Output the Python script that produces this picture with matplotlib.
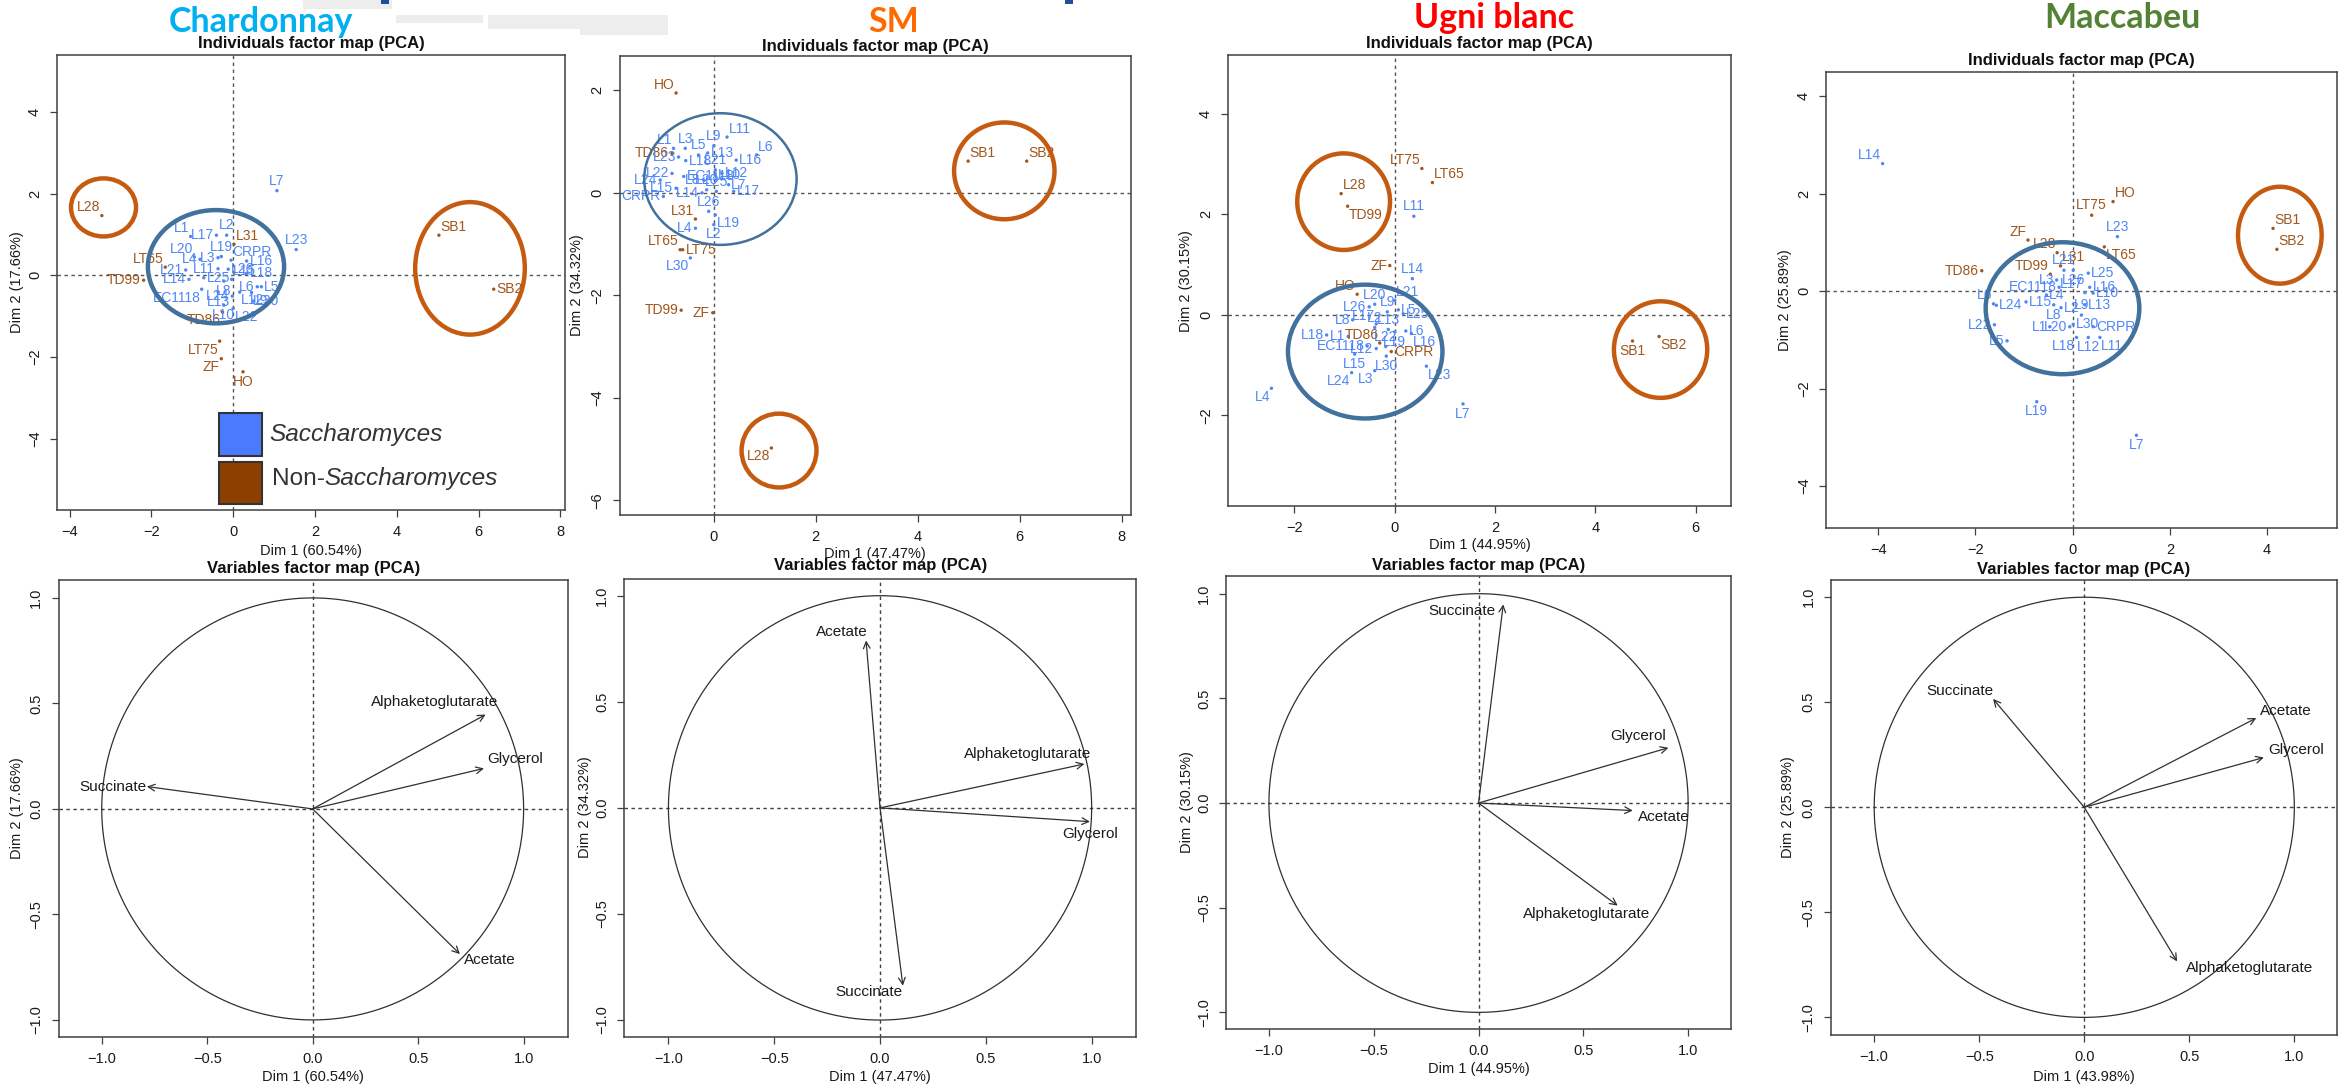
import matplotlib
matplotlib.use('Agg')
import matplotlib.pyplot as plt
from matplotlib.patches import Ellipse, Rectangle
import numpy as np

plt.rcParams['font.family'] = ['Liberation Sans', 'DejaVu Sans']

# ---------------- data ----------------
cultivars = ['Chardonnay', 'SM', 'Ugni blanc', 'Maccabeu']
cultivar_colors = ['#00B0F0', '#FF6A00', '#FF0000', '#548235']
dim1_pct = [60.54, 47.47, 44.95, 43.98]
dim2_pct = [17.66, 34.32, 30.15, 25.89]

# non-Saccharomyces strains (brown); everything else is Saccharomyces (blue)
nonsac = ['L28', 'LT65', 'LT75', 'TD99', 'TD86', 'L31', 'ZF', 'HO', 'SB1', 'SB2']
nonsac_ugni = nonsac + ['CRPR']

# Chardonnay individuals
ch_names = ['L28', 'LT65', 'TD99', 'L31', 'TD86', 'LT75', 'ZF', 'HO', 'SB1', 'SB2',
            'L7', 'L23', 'L1', 'L17', 'L2', 'L20', 'L4', 'L3', 'L19', 'CRPR', 'L16',
            'L21', 'L11', 'L26', 'L18', 'L14', 'L25', 'L15', 'L8', 'L6', 'L5', 'EC1118',
            'L13', 'L24', 'L12', 'L9', 'L30', 'L10', 'L22']
ch_x = [-3.21, -1.66, -2.19, 0.02, -0.26, -0.33, -0.29, 0.24, 5.03, 6.37,
        1.07, 1.54, -1.04, -0.41, -0.16, -0.95, -0.81, -0.37, -0.29, -0.05, 0.33,
        -1.16, -0.37, -0.12, 0.33, -1.08, -0.72, -0.04, -0.23, 0.59, 0.69, -0.77,
        -0.37, -0.02, 0.16, 0.45, 0.49, -0.23, 0.00]
ch_y = [1.46, 0.20, -0.12, 0.76, -0.90, -1.61, -2.04, -2.36, 0.98, -0.34,
        2.07, 0.63, 0.95, 0.98, 0.98, 0.45, 0.39, 0.43, 0.46, 0.37, 0.35,
        0.13, 0.16, 0.15, 0.05, -0.10, -0.06, -0.10, -0.14, -0.28, -0.28, -0.34,
        -0.41, -0.51, -0.41, -0.42, -0.63, -0.73, -0.81]

# SM individuals
sm_names = ['HO', 'SB1', 'SB2', 'L28', 'TD99', 'ZF', 'L31', 'LT65', 'LT75', 'TD86',
            'L30', 'L11', 'L9', 'L6', 'L16', 'L3', 'L1', 'L5', 'L13', 'L23', 'L18',
            'L21', 'L22', 'EC1118', 'L10', 'L12', 'L8', 'L24', 'L15', 'L20', 'L7',
            'L17', 'L14', 'L25', 'CRPR', 'L26', 'L19', 'L4', 'L2']
sm_x = [-0.74, 4.99, 6.14, 1.13, -0.64, -0.02, -0.36, -0.66, -0.61, -0.82,
        -0.46, 0.26, 0.00, 0.84, 0.44, -0.56, -0.79, -0.30, -0.12, -0.69, -0.55,
        0.03, -0.82, -0.59, 0.03, 0.16, -0.20, -1.05, -0.74, -0.14, 0.29,
        0.39, -0.23, 0.05, -0.99, -0.10, 0.03, -0.36, 0.00]
sm_y = [1.95, 0.62, 0.62, -4.98, -2.29, -2.34, -0.51, -1.11, -1.11, 0.77,
        -1.27, 1.09, 0.92, 0.74, 0.64, 0.87, 0.87, 0.74, 0.78, 0.70, 0.63,
        0.45, 0.38, 0.32, 0.35, 0.38, 0.25, 0.25, 0.09, 0.06, 0.16,
        0.03, 0.00, 0.03, -0.07, -0.36, -0.43, -0.69, -0.62]

# Ugni blanc individuals
ub_names = ['LT75', 'LT65', 'L28', 'TD99', 'ZF', 'HO', 'TD86', 'CRPR', 'SB1', 'SB2',
            'L11', 'L14', 'L20', 'L21', 'L26', 'L9', 'L5', 'L25', 'L8', 'L17', 'L13',
            'L2', 'L6', 'L18', 'L1', 'L19', 'L16', 'EC1118', 'L12', 'L22', 'L15',
            'L30', 'L23', 'L24', 'L3', 'L4', 'L7']
ub_x = [0.54, 0.75, -1.07, -0.94, -0.10, -0.75, -0.30, -0.07, 4.74, 5.27,
        0.38, 0.35, -0.40, 0.00, -0.51, -0.15, 0.07, 0.17, -0.84, -0.37, -0.13,
        -0.40, 0.22, -1.36, -0.93, 0.00, 0.33, -0.55, -0.37, -0.18, -0.80,
        -0.17, 0.63, -0.86, -0.40, -2.46, 1.36]
ub_y = [2.91, 2.63, 2.41, 2.16, 0.98, 0.41, -0.56, -0.73, -0.52, -0.43,
        1.96, 0.72, 0.21, 0.29, 0.16, 0.06, 0.10, 0.02, -0.10, -0.18, -0.29,
        -0.25, -0.32, -0.40, -0.43, -0.34, -0.37, -0.62, -0.67, -0.63, -0.78,
        -0.82, -1.02, -1.15, -1.11, -1.46, -1.77]

# Maccabeu individuals
mc_names = ['HO', 'LT75', 'ZF', 'L28', 'LT65', 'L31', 'TD86', 'TD99', 'SB1', 'SB2',
            'L14', 'L23', 'L21', 'L26', 'L25', 'L3', 'L16', 'EC1118', 'L17', 'L4',
            'L10', 'L6', 'L24', 'L15', 'L2', 'L13', 'L9', 'L8', 'L22', 'L1', 'L20',
            'L30', 'CRPR', 'L5', 'L18', 'L12', 'L11', 'L19', 'L7']
mc_x = [0.83, 0.39, -0.92, -0.32, 0.65, -0.25, -1.87, -0.46, 4.12, 4.20,
        -3.91, 0.92, -0.18, 0.01, 0.32, -0.33, 0.35, -0.28, 0.25, -0.54,
        0.42, -1.63, -1.57, -0.96, -0.24, 0.25, 0.18, -0.39, -1.61, -0.47, -0.06,
        0.01, 0.42, -1.35, 0.08, 0.32, 0.56, -0.74, 1.31]
mc_y = [1.84, 1.56, 1.05, 0.79, 0.91, 0.52, 0.42, 0.35, 1.29, 0.86,
        2.62, 1.12, 0.43, 0.43, 0.37, 0.23, 0.08, 0.08, -0.03, -0.08,
        -0.04, -0.26, -0.29, -0.22, -0.34, -0.28, -0.49, -0.28, -0.69, -0.73, -0.73,
        -0.68, -0.73, -1.02, -0.95, -0.95, -0.95, -2.27, -2.96]

# hand-drawn group ellipses: (cx, cy, width, height, group)
ch_ell = [(-0.42, 0.21, 3.33, 2.77, 'S'), (-3.17, 1.66, 1.59, 1.42, 'N'), (5.79, 0.17, 2.68, 3.24, 'N')]
sm_ell = [(0.13, 0.27, 2.99, 2.57, 'S'), (5.70, 0.43, 1.97, 1.89, 'N'), (1.28, -5.03, 1.47, 1.44, 'N')]
ub_ell = [(-0.59, -0.73, 3.08, 2.66, 'S'), (-1.02, 2.25, 1.85, 1.92, 'N'), (5.30, -0.69, 1.86, 1.92, 'N')]
mc_ell = [(-0.21, -0.35, 3.16, 2.71, 'S'), (4.26, 1.15, 1.72, 1.99, 'N')]

# variable loadings (Dim 1, Dim 2)
var_names = ['Alphaketoglutarate', 'Glycerol', 'Succinate', 'Acetate']
ch_d1 = [0.82, 0.812, -0.786, 0.698]
ch_d2 = [0.447, 0.192, 0.106, -0.688]
sm_d1 = [0.966, 0.992, 0.108, -0.066]
sm_d2 = [0.207, -0.065, -0.838, 0.789]
ub_d1 = [0.664, 0.906, 0.118, 0.736]
ub_d2 = [-0.49, 0.264, 0.949, -0.036]
mc_d1 = [0.442, 0.855, -0.434, 0.819]
mc_d2 = [-0.734, 0.237, 0.516, 0.425]

# ---------------- layout / style ----------------
W, H = 2343, 1088
BLUE = '#4F86F7'
BROWN = '#A0561C'
ELL_BLUE = '#41719C'
ELL_BROWN = '#C55A11'
FRAME = '#404040'

fig = plt.figure(figsize=(W / 100, H / 100), dpi=100)
fig.patch.set_facecolor('white')


def fy(py):
    return 1 - py / H


def add_ax(l, t, r, b):
    return fig.add_axes([l / W, 1 - b / H, (r - l) / W, (b - t) / H])


def ftext(x, y, s, **kw):
    return fig.text(x / W, fy(y), s, **kw)


def rnum(t, dec):
    s = f'{t:.{dec}f}'
    return s.replace('-', '\u2212')


def r_style(ax, xlim, ylim, xticks, yticks, dec, dash_col='#555555'):
    ax.set_xlim(*xlim)
    ax.set_ylim(*ylim)
    ax.set_xticks(xticks)
    ax.set_yticks(yticks)
    ax.set_xticklabels([rnum(t, dec) for t in xticks])
    ax.set_yticklabels([rnum(t, dec) for t in yticks])
    for s in ax.spines.values():
        s.set_color(FRAME)
        s.set_linewidth(1.1)
    ax.tick_params(direction='out', length=5, width=0.9, color=FRAME,
                   labelsize=10.5, pad=6, labelcolor='#1a1a1a')
    ax.tick_params(axis='y', labelrotation=90)
    for lab in ax.get_yticklabels():
        lab.set_va('center')
    ax.axhline(0, color=dash_col, lw=1.0, ls=(0, (2.5, 2.5)), zorder=1)
    ax.axvline(0, color=dash_col, lw=1.0, ls=(0, (2.5, 2.5)), zorder=1)


OFFS = {'n': (0, 2.0, 'center', 'bottom'), 's': (0, -2.0, 'center', 'top'),
        'e': (2.0, 0, 'left', 'center'), 'w': (-2.0, 0, 'right', 'center'),
        'ne': (1.0, 1.0, 'left', 'bottom'), 'nw': (-1.0, 1.0, 'right', 'bottom'),
        'se': (1.0, -1.0, 'left', 'top'), 'sw': (-1.0, -1.0, 'right', 'top')}

# label placement per panel (default above)
ch_pos = {'L28': 'nw', 'LT65': 'nw', 'TD99': 'w', 'L31': 'ne', 'TD86': 'sw', 'LT75': 'sw',
          'ZF': 'sw', 'HO': 's', 'SB1': 'ne', 'SB2': 'e', 'L1': 'nw', 'L17': 'w', 'L20': 'nw',
          'L4': 'w', 'L3': 'w', 'CRPR': 'ne', 'L16': 'e', 'L21': 'w', 'L11': 'w', 'L26': 'e',
          'L18': 'e', 'L14': 'w', 'L25': 'e', 'L15': 'ne', 'L8': 's', 'L6': 'w', 'L5': 'e',
          'EC1118': 'sw', 'L13': 's', 'L24': 'w', 'L12': 'se', 'L9': 'se', 'L30': 'e',
          'L10': 's', 'L22': 'se'}
sm_pos = {'HO': 'nw', 'SB1': 'ne', 'SB2': 'ne', 'L28': 'sw', 'TD99': 'w', 'ZF': 'w',
          'L31': 'nw', 'LT65': 'nw', 'LT75': 'e', 'TD86': 'w', 'L30': 'sw', 'L11': 'ne',
          'L6': 'ne', 'L16': 'e', 'L1': 'nw', 'L13': 'e', 'L23': 'w', 'L18': 'e',
          'L22': 'w', 'EC1118': 'e', 'L10': 'e', 'L12': 'e', 'L8': 'w', 'L24': 'w',
          'L15': 'w', 'L7': 'e', 'L17': 'e', 'L14': 'w', 'CRPR': 'w', 'L19': 'se',
          'L4': 'w', 'L2': 's'}
ub_pos = {'LT75': 'nw', 'LT65': 'ne', 'L28': 'ne', 'TD99': 'se', 'ZF': 'w', 'HO': 'nw',
          'TD86': 'nw', 'CRPR': 'e', 'SB1': 's', 'SB2': 'se', 'L21': 'ne', 'L26': 'w',
          'L5': 'e', 'L25': 'e', 'L8': 'w', 'L17': 'nw', 'L6': 'e', 'L18': 'w', 'L1': 'w',
          'L19': 's', 'L16': 'se', 'EC1118': 'w', 'L12': 'w', 'L15': 's', 'L30': 's',
          'L23': 'se', 'L24': 'sw', 'L3': 'sw', 'L4': 'sw', 'L7': 's'}
mc_pos = {'HO': 'ne', 'ZF': 'nw', 'L28': 'nw', 'LT65': 'se', 'L31': 'ne', 'TD86': 'w',
          'TD99': 'nw', 'SB1': 'ne', 'SB2': 'ne', 'L14': 'nw', 'L26': 's', 'L25': 'e',
          'L3': 'w', 'L16': 'e', 'EC1118': 'w', 'L17': 'nw', 'L4': 'e', 'L10': 'e',
          'L6': 'nw', 'L24': 'e', 'L15': 'e', 'L2': 'e', 'L13': 'e', 'L8': 's',
          'L22': 'w', 'L1': 'w', 'L20': 'w', 'L30': 'e', 'CRPR': 'e', 'L5': 'w',
          'L18': 'sw', 'L12': 's', 'L11': 'se', 'L19': 's', 'L7': 's'}

# variable label shifts from arrow tip (data units)
ch_shift = {'Alphaketoglutarate': (-0.24, 0.06), 'Glycerol': (0.15, 0.044),
            'Succinate': (-0.16, 0.0), 'Acetate': (0.14, -0.03)}
sm_shift = {'Alphaketoglutarate': (-0.27, 0.045), 'Glycerol': (0.0, -0.056),
            'Succinate': (-0.16, -0.03), 'Acetate': (-0.115, 0.04)}
ub_shift = {'Alphaketoglutarate': (-0.149, -0.041), 'Glycerol': (-0.143, 0.054),
            'Succinate': (-0.195, -0.03), 'Acetate': (0.147, -0.033)}
mc_shift = {'Alphaketoglutarate': (0.346, -0.029), 'Glycerol': (0.154, 0.038),
            'Succinate': (-0.16, 0.036), 'Acetate': (0.142, 0.034)}


def draw_individuals(ax, names, xs, ys, brown_set, pos, ells, blue_lw=3.2):
    cols = [BROWN if n in brown_set else BLUE for n in names]
    ax.scatter(xs, ys, s=6, c=cols, linewidths=0, zorder=3)
    for n, x, y, c in zip(names, xs, ys, cols):
        dx, dy, ha, va = OFFS[pos.get(n, 'n')]
        ax.annotate(n, (x, y), xytext=(dx, dy), textcoords='offset points',
                    ha=ha, va=va, fontsize=10, color=c, zorder=4)
    for cx, cy, w, h, g in ells:
        ax.add_patch(Ellipse((cx, cy), w, h, fill=False,
                             ec=ELL_BLUE if g == 'S' else ELL_BROWN,
                             lw=blue_lw if g == 'S' else 3.2, zorder=5, clip_on=False))


def draw_variables(ax, d1, d2, shift):
    t = np.linspace(0, 2 * np.pi, 400)
    ax.plot(np.cos(t), np.sin(t), color='#303030', lw=0.9, zorder=2)
    for name, x, y in zip(var_names, d1, d2):
        ax.annotate('', xy=(x, y), xytext=(0, 0),
                    arrowprops=dict(arrowstyle='->', color='#303030', lw=0.9,
                                    shrinkA=0, shrinkB=0, mutation_scale=12), zorder=3)
        sx, sy = shift[name]
        ax.text(x + sx, y + sy, name, ha='center', va='center', fontsize=11,
                color='#1a1a1a', zorder=4)


# ---------------- header smudges (cropped slide remnants) ----------------
for (l, t, r, b) in [(303, 0, 392, 9), (396, 15, 483, 23), (488, 15, 580, 29), (580, 15, 668, 35)]:
    fig.add_artist(Rectangle((l / W, fy(b)), (r - l) / W, (b - t) / H,
                             transform=fig.transFigure, fc='#EDEDED', ec='none', zorder=0))
for xg in (385, 1069):
    fig.add_artist(Rectangle(((xg - 4) / W, fy(4)), 8 / W, 4 / H,
                             transform=fig.transFigure, fc='#1F4E9A', ec='none', zorder=0))

# ---------------- top row: individuals ----------------
top_boxes = [(57.3, 55.3, 565.3, 509.6), (619.5, 55.6, 1131.2, 515.1),
             (1228.3, 55.3, 1731.3, 506.0), (1826.2, 71.6, 2337.2, 527.8)]
top_lims = [((-4.30, 8.12), (-5.73, 5.38)), ((-1.85, 8.19), (-6.29, 2.68)),
            ((-3.32, 6.71), (-3.80, 5.16)), ((-5.07, 5.44), (-4.86, 4.51))]
top_xt = [[-4, -2, 0, 2, 4, 6, 8], [0, 2, 4, 6, 8], [-2, 0, 2, 4, 6], [-4, -2, 0, 2, 4]]
top_yt = [[-4, -2, 0, 2, 4], [-6, -4, -2, 0, 2], [-2, 0, 2, 4], [-4, -2, 0, 2, 4]]
top_title_y = [43.6, 46.2, 43.6, 60.0]
top_xlab_y = [550.7, 554.3, 545.3, None]
top_ylab_x = [17.0, 577.0, 1186.0, 1785.3]
cult_x = [261.0, 894.0, 1494.5, 2122.6]
cult_base = [32.0, 32.0, 28.4, 28.3]

indiv = [(ch_names, ch_x, ch_y, nonsac, ch_pos, ch_ell, 3.2),
         (sm_names, sm_x, sm_y, nonsac, sm_pos, sm_ell, 1.8),
         (ub_names, ub_x, ub_y, nonsac_ugni, ub_pos, ub_ell, 3.2),
         (mc_names, mc_x, mc_y, nonsac, mc_pos, mc_ell, 3.2)]

for i in range(4):
    l, t, r, b = top_boxes[i]
    ax = add_ax(l, t, r, b)
    r_style(ax, top_lims[i][0], top_lims[i][1], top_xt[i], top_yt[i], 0)
    names, xs, ys, bset, pos, ells, blw = indiv[i]
    draw_individuals(ax, names, xs, ys, bset, pos, ells, blw)
    cx = (l + r) / 2
    ftext(cx, top_title_y[i], 'Individuals factor map (PCA)', ha='center', va='center',
          fontsize=12, fontweight='bold', color='#111111')
    if top_xlab_y[i] is not None:
        ftext(cx, top_xlab_y[i], f'Dim 1 ({dim1_pct[i]:.2f}%)', ha='center', va='center',
              fontsize=10.5, color='#1a1a1a')
    ftext(top_ylab_x[i], (t + b) / 2, f'Dim 2 ({dim2_pct[i]:.2f}%)', ha='center', va='center',
          rotation=90, fontsize=10.5, color='#1a1a1a')
    ftext(cult_x[i], cult_base[i], cultivars[i], ha='center', va='baseline',
          fontsize=24.5, fontweight='bold', color=cultivar_colors[i],
          family=['Lato', 'DejaVu Sans'])

# legend inside the Chardonnay panel
for (t, b, c) in [(413.3, 456.2, '#4A7BFF'), (461.6, 504.5, '#8B4000')]:
    fig.add_artist(Rectangle((219.4 / W, fy(b)), (261.9 - 219.4) / W, (b - t) / H,
                             transform=fig.transFigure, fc=c, ec='#333333', lw=1.5, zorder=6))
ftext(269, 434, 'Saccharomyces', ha='left', va='center', fontsize=17.6, style='italic',
      color='#333333', zorder=6)
ftext(272, 479, 'Non-', ha='left', va='center', fontsize=17.6, color='#333333', zorder=6)
ftext(324, 479, 'Saccharomyces', ha='left', va='center', fontsize=17.6, style='italic',
      color='#333333', zorder=6)

# ---------------- bottom row: variables ----------------
bot_boxes = [(58.5, 580.2, 567.9, 1036.6), (624.4, 578.5, 1136.1, 1036.6),
             (1226.4, 576.1, 1731.3, 1028.7), (1830.7, 580.2, 2337.2, 1034.6)]
bot_lims = [((-1.205, 1.21), (-1.079, 1.084)), ((-1.208, 1.21), (-1.078, 1.081)),
            ((-1.203, 1.206), (-1.078, 1.084)), ((-1.207, 1.204), (-1.082, 1.081))]
bot_title_y = [568.9, 565.4, 565.4, 569.9]
bot_xlab_y = [1076.8, 1076.8, 1068.9, 1076.8]
bot_ylab_x = [17.0, 585.0, 1187.0, 1788.0]
loads = [(ch_d1, ch_d2, ch_shift), (sm_d1, sm_d2, sm_shift),
         (ub_d1, ub_d2, ub_shift), (mc_d1, mc_d2, mc_shift)]
vt = [-1.0, -0.5, 0.0, 0.5, 1.0]

for i in range(4):
    l, t, r, b = bot_boxes[i]
    ax = add_ax(l, t, r, b)
    r_style(ax, bot_lims[i][0], bot_lims[i][1], vt, vt, 1, dash_col='#404040')
    d1, d2, sh = loads[i]
    draw_variables(ax, d1, d2, sh)
    cx = (l + r) / 2
    ftext(cx, bot_title_y[i], 'Variables factor map (PCA)', ha='center', va='center',
          fontsize=12, fontweight='bold', color='#111111')
    ftext(cx, bot_xlab_y[i], f'Dim 1 ({dim1_pct[i]:.2f}%)', ha='center', va='center',
          fontsize=10.5, color='#1a1a1a')
    ftext(bot_ylab_x[i], (t + b) / 2, f'Dim 2 ({dim2_pct[i]:.2f}%)', ha='center', va='center',
          rotation=90, fontsize=10.5, color='#1a1a1a')

fig.savefig('out.png', dpi=100, facecolor='white')
